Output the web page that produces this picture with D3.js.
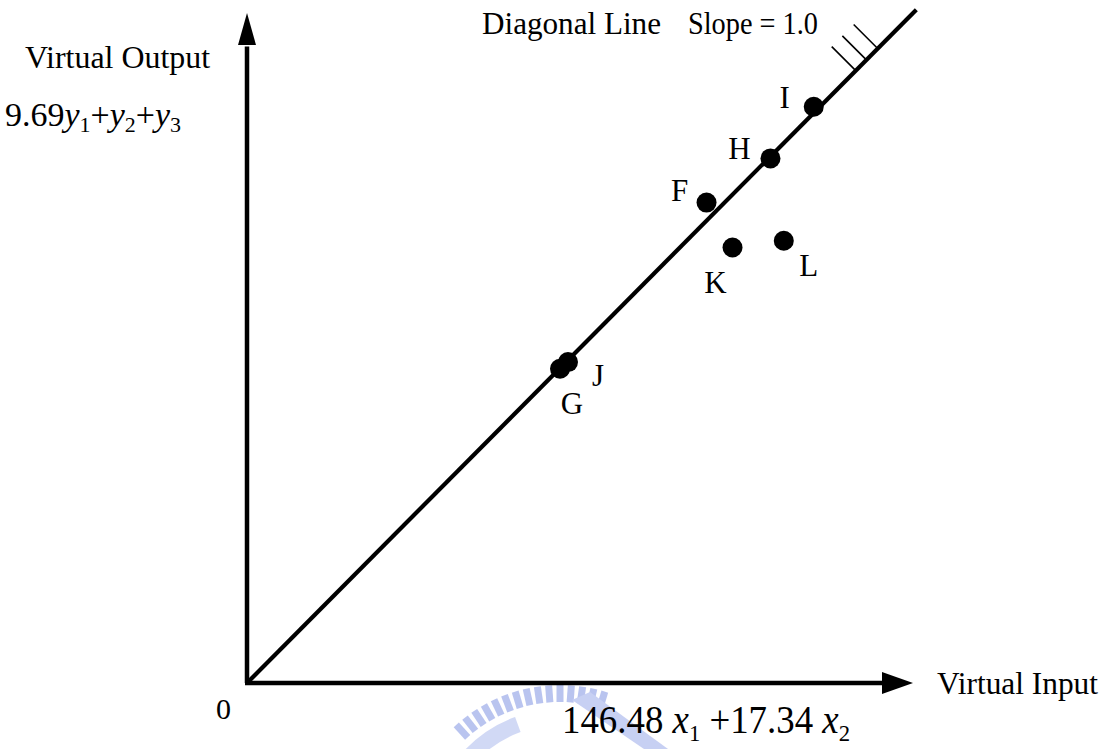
<!DOCTYPE html>
<html>
<head>
<meta charset="utf-8">
<script src="https://cdn.jsdelivr.net/npm/d3@7"></script>
<style>
  html, body { margin: 0; padding: 0; background: #fff; }
  svg { display: block; }
  text { font-family: "Liberation Serif", "Times New Roman", serif; fill: #000; }
</style>
</head>
<body>
<svg id="chart" width="1110" height="749"></svg>
<script>
// DMU labels and their virtual input / virtual output values
const units   = ["G", "J", "F", "K", "L", "H", "I"];
const inputs  = [47.0, 48.2, 69.0, 72.9, 80.6, 78.6, 85.1];
const outputs = [46.9, 47.9, 71.7, 65.0, 66.0, 78.3, 86.0];

// Diagonal (efficient frontier, slope 1) extent
const diagonalExtent = [0, 100.5];
// Positions along the diagonal of the small hatch marks
const hatchAt = [91.4, 93.0, 94.7];

const svg = d3.select("#chart");

const x = d3.scaleLinear().domain([0, 100]).range([247, 913]);
const y = d3.scaleLinear().domain([0, 100]).range([683, 13]);

// faint seal watermark near the bottom edge
const wm = svg.append("g").attr("opacity", 0.6);
const cx = 560, cy = 840, R = 155;
d3.range(-132, -72, 4.2).forEach(a => {
  wm.append("rect")
    .attr("x", -3.5).attr("y", -R).attr("width", 7).attr("height", 17)
    .attr("fill", "#8c9de6")
    .attr("transform", `translate(${cx},${cy}) rotate(${a + 90})`);
});
wm.append("path")
  .attr("d", d3.arc().innerRadius(R - 40).outerRadius(R - 24).startAngle(-0.85).endAngle(-0.35)())
  .attr("transform", `translate(${cx},${cy})`)
  .attr("fill", "#b4c0f0");
wm.append("path")
  .attr("d", "M572,700 L590,692 L668,749 L644,749 Z")
  .attr("fill", "#a3b1ec");

// axes with arrowheads
const axisW = 4.5;
svg.append("line")
  .attr("x1", x(0)).attr("y1", y(0)).attr("x2", x(0)).attr("y2", y(95))
  .attr("stroke", "#000").attr("stroke-width", axisW);
svg.append("line")
  .attr("x1", x(0) - 2).attr("y1", y(0)).attr("x2", x(96)).attr("y2", y(0))
  .attr("stroke", "#000").attr("stroke-width", axisW);
svg.append("path")
  .attr("d", `M${x(0)},${y(100)} L${x(0) - 9},${y(100) + 32} L${x(0) + 9},${y(100) + 32} Z`)
  .attr("fill", "#000");
svg.append("path")
  .attr("d", `M${x(100)},${y(0)} L${x(100) - 31},${y(0) - 11} L${x(100) - 31},${y(0) + 11} Z`)
  .attr("fill", "#000");

// diagonal line
svg.append("line")
  .attr("x1", x(diagonalExtent[0])).attr("y1", y(diagonalExtent[0]))
  .attr("x2", x(diagonalExtent[1])).attr("y2", y(diagonalExtent[1]))
  .attr("stroke", "#000").attr("stroke-width", 4.2);

// hatch marks on the upper side of the diagonal
const hatchLen = 24;
svg.selectAll("line.hatch").data(hatchAt).join("line")
  .attr("class", "hatch")
  .attr("x1", d => x(d)).attr("y1", d => y(d))
  .attr("x2", d => x(d) - hatchLen).attr("y2", d => y(d) - hatchLen)
  .attr("stroke", "#000").attr("stroke-width", 1.6);

// points
const pts = units.map((u, i) => ({ u, xi: inputs[i], yo: outputs[i] }));
svg.selectAll("circle.dmu").data(pts).join("circle")
  .attr("class", "dmu")
  .attr("cx", d => x(d.xi)).attr("cy", d => y(d.yo))
  .attr("r", 10).attr("fill", "#000");

// point labels
const labelOffset = {
  G: [12, 45], J: [30, 24], F: [-27, -2], K: [-17, 45],
  L: [25, 35], H: [-31, 1], I: [-29, 1]
};
svg.selectAll("text.dmu").data(pts).join("text")
  .attr("class", "dmu")
  .attr("x", d => x(d.xi) + labelOffset[d.u][0])
  .attr("y", d => y(d.yo) + labelOffset[d.u][1])
  .attr("text-anchor", "middle")
  .attr("font-size", 31)
  .text(d => d.u);

// titles
function label(txt, px, py, size, len) {
  const t = svg.append("text").attr("x", px).attr("y", py)
    .attr("font-size", size).text(txt);
  if (len) t.attr("textLength", len).attr("lengthAdjust", "spacingAndGlyphs");
  return t;
}
label("Virtual Output", 25, 68, 31, 185);
label("Diagonal Line", 482, 34, 31, 179);
label("Slope = 1.0", 688, 34, 31, 130);
label("Virtual Input", 937, 694, 31, 161);
label("0", 216, 719, 30);

// virtual output formula
const fy = svg.append("text").attr("x", 5).attr("y", 126).attr("font-size", 34)
  .attr("textLength", 176).attr("lengthAdjust", "spacingAndGlyphs");
fy.append("tspan").text("9.69");
[["1", "+"], ["2", "+"], ["3", ""]].forEach(([s, op]) => {
  fy.append("tspan").attr("font-style", "italic").text("y");
  fy.append("tspan").attr("font-size", 22).attr("dy", 6).text(s);
  if (op) fy.append("tspan").attr("dy", -6).text(op);
});

// virtual input formula
const fx = svg.append("text").attr("x", 562).attr("y", 733).attr("font-size", 39)
  .attr("textLength", 288).attr("lengthAdjust", "spacingAndGlyphs");
fx.append("tspan").text("146.48 ");
fx.append("tspan").attr("font-style", "italic").text("x");
fx.append("tspan").attr("font-size", 24).attr("dy", 8).text("1");
fx.append("tspan").attr("dy", -8).text(" +17.34 ");
fx.append("tspan").attr("font-style", "italic").text("x");
fx.append("tspan").attr("font-size", 24).attr("dy", 8).text("2");
</script>
</body>
</html>
